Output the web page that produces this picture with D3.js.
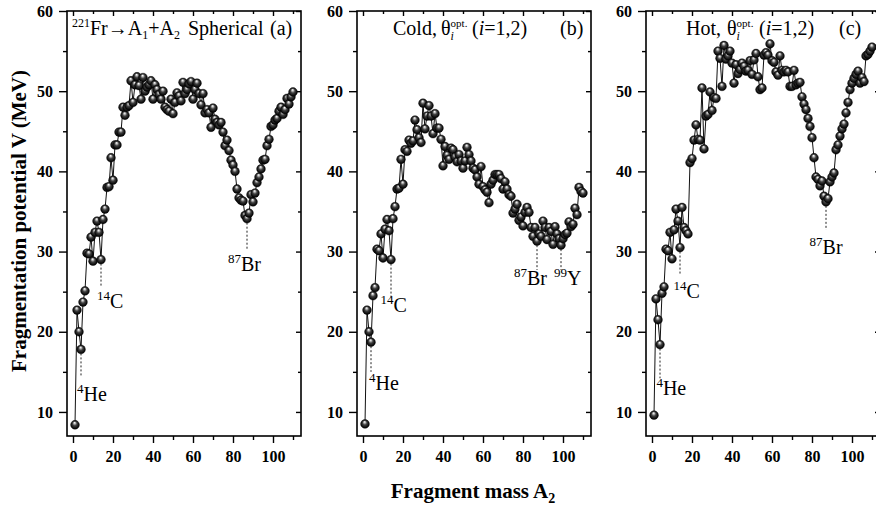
<!DOCTYPE html>
<html>
<head>
<meta charset="utf-8">
<script src="https://cdn.jsdelivr.net/npm/d3@7"></script>
<style>
  body { margin: 0; background: #fff; }
  svg { display: block; font-family: 'Liberation Serif', 'Times New Roman', serif; }
  .axis path { display: none; }
  .axis line { stroke: #000; stroke-width: 1.4; }
  .axis text { font-family: 'Liberation Serif', serif; font-size: 16px; font-weight: bold; fill: #000; }
  .frame { fill: none; stroke: #000; stroke-width: 1.6; }
  .curve { fill: none; stroke: #111; stroke-width: 1; }
  .guide { stroke: #222; stroke-width: 1; stroke-dasharray: 2,2; }
  text.rich { white-space: pre; fill: #000; }
  .axis-title { font-weight: bold; font-size: 21px; }
</style>
</head>
<body>
<div id="chart"></div>
<script>
// fragment mass A2 runs through every integer 1..110 (221Fr split)
const fragmentMass = d3.range(1, 111);

// (a) spherical fragments
const vSpherical = [
  8.4, 22.7, 20.0, 17.8, 23.7, 25.1, 29.8, 29.7, 31.8, 28.8,
  32.4, 33.8, 32.4, 29.0, 34.0, 35.3, 38.0, 38.1, 41.7, 38.9,
  43.3, 43.3, 44.9, 44.9, 48.0, 47.0, 48.0, 48.2, 51.3, 48.6,
  50.8, 51.8, 50.7, 49.0, 51.7, 50.0, 50.5, 50.8, 51.3, 49.0,
  50.8, 50.2, 49.6, 49.0, 50.0, 48.0, 47.7, 47.5, 49.0, 47.2,
  48.6, 49.8, 49.4, 48.8, 51.1, 49.7, 50.2, 50.9, 51.2, 49.0,
  50.2, 51.0, 49.7, 48.3, 49.7, 47.3, 47.7, 47.3, 45.5, 47.9,
  46.5, 46.1, 45.8, 46.1, 44.9, 43.2, 43.9, 42.6, 41.4, 40.8,
  40.0, 37.8, 36.7, 36.4, 36.3, 34.5, 34.1, 34.8, 37.1, 36.2,
  37.3, 38.6, 39.3, 40.3, 41.4, 41.5, 43.2, 44.0, 45.6, 45.8,
  46.4, 46.6, 47.5, 48.0, 47.1, 47.7, 49.1, 48.4, 49.3, 49.9
];

// (b) cold, optimum orientations
const vCold = [
  8.5, 22.7, 20.0, 18.7, 24.5, 25.5, 30.3, 30.1, 32.2, 29.2,
  32.8, 34.0, 32.6, 29.0, 34.1, 35.6, 37.8, 37.9, 41.5, 38.4,
  42.7, 42.5, 43.9, 43.5, 43.8, 46.4, 45.2, 44.2, 43.6, 48.5,
  45.3, 46.9, 48.2, 46.9, 44.7, 47.2, 45.4, 45.4, 44.0, 40.7,
  43.1, 42.0, 41.5, 42.9, 42.7, 41.8, 41.2, 42.1, 41.3, 40.4,
  41.3, 43.0, 42.1, 41.3, 40.4, 40.2, 39.3, 38.4, 40.6, 38.1,
  37.7, 37.4, 36.1, 38.4, 38.9, 39.6, 39.6, 39.6, 39.1, 37.8,
  38.7, 37.8, 37.1, 36.9, 34.8, 35.3, 35.9, 33.9, 34.3, 33.2,
  34.9, 35.5, 34.9, 33.0, 31.9, 33.0, 31.3, 32.2, 31.9, 33.8,
  33.0, 31.5, 33.0, 32.5, 30.9, 33.1, 32.2, 31.6, 30.8, 31.6,
  32.1, 32.3, 33.7, 33.1, 33.4, 35.4, 34.6, 38.0, 37.5, 37.3
];

// (c) hot, optimum orientations
const vHot = [
  9.6, 24.1, 21.5, 18.4, 24.8, 25.6, 30.3, 30.1, 32.4, 29.1,
  32.7, 35.3, 33.8, 30.5, 35.5, 33.0, 32.6, 32.2, 41.1, 41.6,
  43.9, 45.8, 44.0, 43.9, 50.4, 42.8, 46.9, 47.1, 49.9, 47.6,
  49.2, 49.1, 55.0, 54.1, 50.6, 55.7, 54.0, 54.4, 55.0, 53.5,
  51.0, 53.3, 52.2, 52.7, 53.5, 53.1, 52.5, 52.6, 53.8, 52.1,
  53.9, 54.7, 51.8, 50.2, 50.4, 54.5, 54.8, 54.5, 55.9, 53.8,
  53.6, 52.4, 52.0, 54.4, 52.6, 52.4, 52.6, 52.4, 50.6, 50.6,
  52.6, 50.8, 51.0, 51.1, 49.3, 48.4, 47.7, 46.6, 45.6, 44.2,
  41.7, 39.3, 39.0, 38.2, 38.8, 36.9, 36.2, 36.6, 38.7, 39.3,
  39.8, 42.7, 43.3, 44.4, 45.3, 45.9, 47.3, 48.6, 50.2, 51.0,
  51.6, 52.1, 52.5, 51.0, 51.7, 51.2, 54.4, 54.6, 55.0, 55.5
];

const yTicks = [10, 20, 30, 40, 50, 60];
const yMinorTicks = [15, 25, 35, 45, 55];
const xTicks = [0, 20, 40, 60, 80, 100];
const xMinorTicks = [10, 30, 50, 70, 90, 110];
const panelTags = ['(a)', '(b)', '(c)'];

/**
 * appends a run of text pieces one after another (for sub/superscripts)
 * piece: {t, size, dy, italic, stack, x}; stack = start at same x as previous piece
 */
function richText(g, x, y, parts) {
  let cx = x, prevStart = x;
  parts.forEach(p => {
    let sx = p.stack ? prevStart : cx;
    if (p.x !== undefined) sx = p.x;
    const t = g.append('text')
      .attr('class', 'rich')
      .attr('x', sx)
      .attr('y', y + (p.dy || 0))
      .attr('font-size', p.size)
      .attr('font-style', p.italic ? 'italic' : null)
      .text(p.t);
    const end = sx + t.node().getComputedTextLength();
    cx = p.stack ? Math.max(end, cx) : end;
    prevStart = sx;
  });
  return cx;
}

class PotentialPanel {

  /**
   * @param {Object} _config
   * @param {Array} _data
   */
  constructor(_config, _data) {
    this.config = {
      parentElement: _config.parentElement,
      left: _config.left,
      top: _config.top || 11,
      width: _config.width || 234,
      height: _config.height || 425,
      title: _config.title,
      titleX: _config.titleX,
      tag: _config.tag,
      tagX: _config.tagX,
      isotopes: _config.isotopes || []
    };
    this.data = _data;
    this.initVis();
  }

  initVis() {
    let vis = this;
    const c = vis.config;

    vis.chart = c.parentElement.append('g')
      .attr('transform', `translate(${c.left},${c.top})`);

    vis.xScale = d3.scaleLinear().domain([-3, 114]).range([0, c.width]);
    vis.yScale = d3.scaleLinear().domain([7, 60]).range([c.height, 0]);

    // outward ticks with labels on left / bottom
    vis.chart.append('g').attr('class', 'axis')
      .attr('transform', `translate(0,${c.height})`)
      .call(d3.axisBottom(vis.xScale).tickValues(xTicks).tickSize(7).tickPadding(8));
    vis.chart.append('g').attr('class', 'axis')
      .attr('transform', `translate(0,${c.height})`)
      .call(d3.axisBottom(vis.xScale).tickValues(xMinorTicks).tickSize(4).tickFormat(''));
    vis.chart.append('g').attr('class', 'axis')
      .call(d3.axisLeft(vis.yScale).tickValues(yTicks).tickSize(8).tickPadding(6));
    vis.chart.append('g').attr('class', 'axis')
      .call(d3.axisLeft(vis.yScale).tickValues(yMinorTicks).tickSize(4).tickFormat(''));

    // mirrored inward ticks on top / right
    vis.chart.append('g').attr('class', 'axis')
      .call(d3.axisTop(vis.xScale).tickValues(xTicks).tickSize(-5).tickFormat(''));
    vis.chart.append('g').attr('class', 'axis')
      .call(d3.axisTop(vis.xScale).tickValues(xMinorTicks).tickSize(-3).tickFormat(''));
    vis.chart.append('g').attr('class', 'axis')
      .attr('transform', `translate(${c.width},0)`)
      .call(d3.axisRight(vis.yScale).tickValues(yTicks).tickSize(-5).tickFormat(''));
    vis.chart.append('g').attr('class', 'axis')
      .attr('transform', `translate(${c.width},0)`)
      .call(d3.axisRight(vis.yScale).tickValues(yMinorTicks).tickSize(-3).tickFormat(''));

    vis.chart.append('rect')
      .attr('class', 'frame')
      .attr('width', c.width)
      .attr('height', c.height);

    vis.renderVis();
  }

  renderVis() {
    let vis = this;
    const c = vis.config;
    const pts = fragmentMass.map((a, i) => ({a: a, v: vis.data[i]}));

    // dashed guides + isotope labels
    c.isotopes.forEach(iso => {
      const pv = vis.data[fragmentMass.indexOf(iso.a)];
      vis.chart.append('line')
        .attr('class', 'guide')
        .attr('x1', vis.xScale(iso.a)).attr('x2', vis.xScale(iso.a))
        .attr('y1', vis.yScale(pv)).attr('y2', vis.yScale(iso.lineTo));
      richText(vis.chart, vis.xScale(iso.lx), vis.yScale(iso.ly), [
        {t: String(iso.a), size: 13, dy: -8},
        {t: iso.sym, size: 20}
      ]);
    });

    const line = d3.line()
      .x(d => vis.xScale(d.a))
      .y(d => vis.yScale(d.v));

    vis.chart.append('path')
      .datum(pts)
      .attr('class', 'curve')
      .attr('d', line);

    vis.chart.selectAll('.ball')
      .data(pts)
      .join('circle')
      .attr('class', 'ball')
      .attr('cx', d => vis.xScale(d.a))
      .attr('cy', d => vis.yScale(d.v))
      .attr('r', 4.4)
      .attr('fill', 'url(#ballGrad)')
      .attr('stroke', '#000')
      .attr('stroke-width', 0.4);

    richText(vis.chart, c.titleX, 24, c.title);
    richText(vis.chart, c.tagX, 24, [{t: c.tag, size: 20}]);
  }
}

const svg = d3.select('#chart').append('svg')
  .attr('width', 876)
  .attr('height', 509);

const grad = svg.append('defs').append('radialGradient')
  .attr('id', 'ballGrad')
  .attr('cx', '50%').attr('cy', '50%').attr('r', '55%')
  .attr('fx', '45%').attr('fy', '25%');
grad.append('stop').attr('offset', '0%').attr('stop-color', '#ffffff');
grad.append('stop').attr('offset', '16%').attr('stop-color', '#c8c8c8');
grad.append('stop').attr('offset', '45%').attr('stop-color', '#404040');
grad.append('stop').attr('offset', '80%').attr('stop-color', '#0d0d0d');
grad.append('stop').attr('offset', '100%').attr('stop-color', '#000');

// theta^opt_i (i=1,2) with its own start positions
function thetaParts(thetaX, parenX) {
  return [
    {t: 'θ', size: 20, x: thetaX},
    {t: 'opt.', size: 11, dy: -8},
    {t: 'i', size: 12, dy: 5, italic: true, stack: true},
    {t: '(', size: 20, x: parenX},
    {t: 'i', size: 20, italic: true},
    {t: '=1,2)', size: 20}
  ];
}

new PotentialPanel({
  parentElement: svg,
  left: 67,
  titleX: 5,
  title: [
    {t: '221', size: 12, dy: -8},
    {t: 'Fr→A', size: 20},
    {t: '1', size: 12, dy: 4},
    {t: '+A', size: 20},
    {t: '2', size: 12, dy: 4},
    {t: 'Spherical', size: 20, x: 121}
  ],
  tag: panelTags[0],
  tagX: 203,
  isotopes: [
    {a: 4, sym: 'He', lineTo: 14.4, lx: 2, ly: 11.4},
    {a: 14, sym: 'C', lineTo: 25.6, lx: 12, ly: 23.0},
    {a: 87, sym: 'Br', lineTo: 30.3, lx: 77.5, ly: 27.6}
  ]
}, vSpherical);

new PotentialPanel({
  parentElement: svg,
  left: 357,
  titleX: 36,
  title: [{t: 'Cold,', size: 20}].concat(thetaParts(84, 115)),
  tag: panelTags[1],
  tagX: 203,
  isotopes: [
    {a: 4, sym: 'He', lineTo: 15.0, lx: 3, ly: 12.7},
    {a: 14, sym: 'C', lineTo: 24.3, lx: 8.8, ly: 22.5},
    {a: 87, sym: 'Br', lineTo: 27.7, lx: 75.5, ly: 25.8},
    {a: 99, sym: 'Y', lineTo: 27.7, lx: 95.5, ly: 25.8}
  ]
}, vCold);

new PotentialPanel({
  parentElement: svg,
  left: 646,
  titleX: 40,
  title: [{t: 'Hot,', size: 20}].concat(thetaParts(81, 113)),
  tag: panelTags[2],
  tagX: 193,
  isotopes: [
    {a: 4, sym: 'He', lineTo: 14.2, lx: 2.2, ly: 12.1},
    {a: 14, sym: 'C', lineTo: 27.1, lx: 10.8, ly: 24.2},
    {a: 87, sym: 'Br', lineTo: 32.7, lx: 78.8, ly: 29.7}
  ]
}, vHot);

// shared axis titles
svg.append('text')
  .attr('class', 'axis-title')
  .attr('transform', 'translate(26,221) rotate(-90)')
  .attr('text-anchor', 'middle')
  .text('Fragmentation potential V (MeV)');

const xt = svg.append('text')
  .attr('class', 'axis-title')
  .attr('x', 473)
  .attr('y', 498)
  .attr('text-anchor', 'middle');
xt.append('tspan').text('Fragment mass A');
xt.append('tspan').attr('font-size', 14).attr('dy', 5).text('2');
</script>
</body>
</html>
